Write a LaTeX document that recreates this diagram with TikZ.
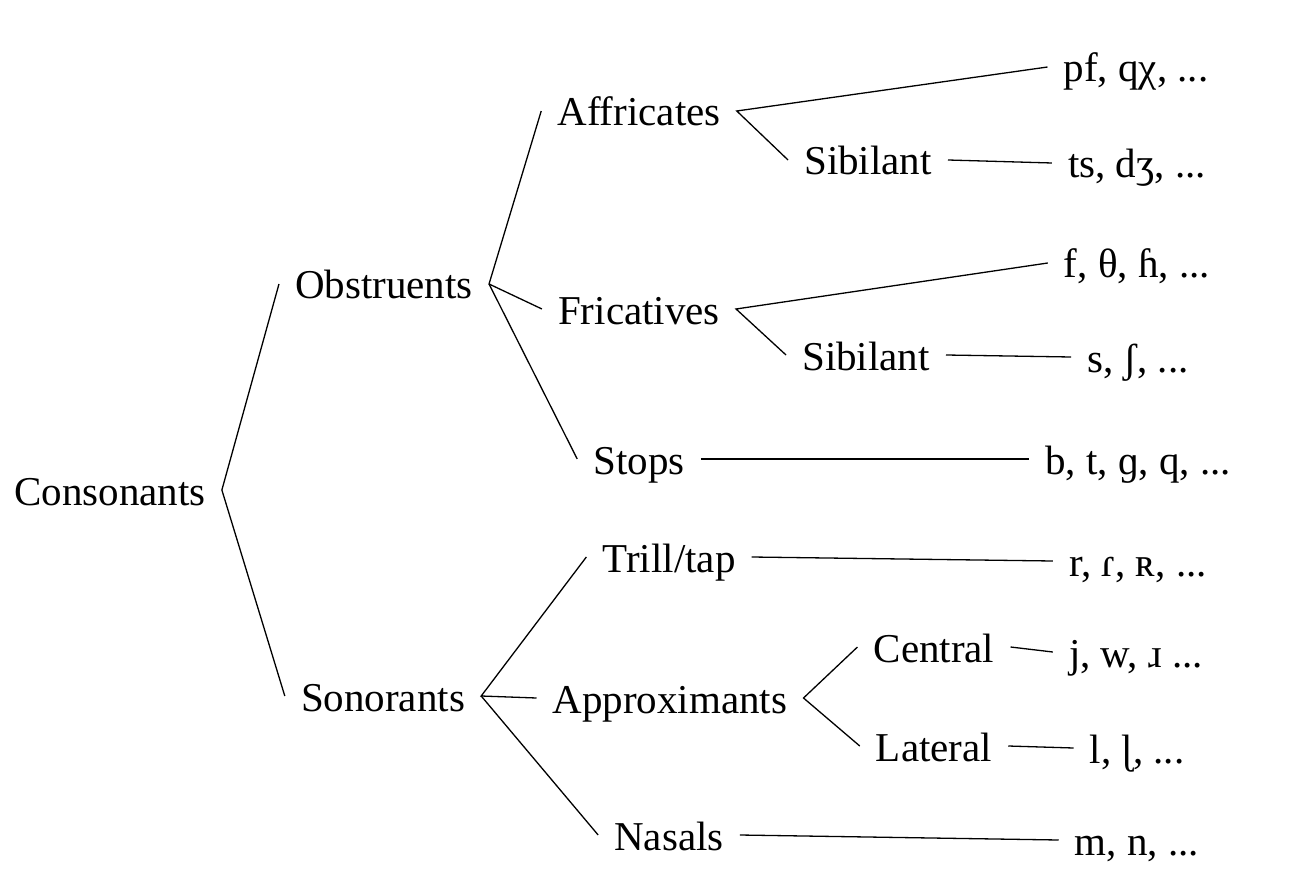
\documentclass[tikz,border=0pt]{standalone}
\usepackage{fontspec}
\setmainfont{Liberation Serif}
\begin{document}
\begin{tikzpicture}[x=1pt,y=-1pt,
  lbl/.style={inner xsep=16pt, inner ysep=0pt, text height=30pt, text depth=0pt, font=\fontsize{41}{48}\selectfont},
  edge/.style={line width=1.3pt, black}]
\useasboundingbox[fill=white] (0,0) rectangle (1292,882);
% level 0
\node[lbl] (cons) at (110,490) {Consonants};
% level 1
\node[lbl] (obs) at (384,284) {Obstruents};
\node[lbl] (son) at (383,696) {Sonorants};
% level 2
\node[lbl] (aff) at (639,111) {Affricates};
\node[lbl] (fri) at (639,309) {Fricatives};
\node[lbl] (sto) at (639,459) {Stops};
\node[lbl] (tri) at (669,557) {Trill/tap};
\node[lbl] (app) at (670,698) {Approximants};
\node[lbl] (nas) at (669,835) {Nasals};
% level 3
\node[lbl] (sib1) at (868,160) {Sibilant};
\node[lbl] (sib2) at (866,355) {Sibilant};
\node[lbl] (cen) at (934,647) {Central};
\node[lbl] (lat) at (934,746) {Lateral};
% leaves
\node[lbl] (l1) at (1136,67) {pf, qχ, ...};
\node[lbl] (l2) at (1137,163) {ts, dʒ, ...};
\node[lbl] (l3) at (1137,263) {f, θ, ɦ, ...};
\node[lbl] (l4) at (1138,357) {s, ʃ, ...};
\node[lbl] (l5) at (1138,459) {b, t, ɡ, q, ...};
\node[lbl] (l6) at (1138,561) {r, ɾ, ʀ, ...};
\node[lbl] (l7) at (1136,652) {j, w, ɹ ...};
\node[lbl] (l8) at (1137,748) {l, ɭ, ...};
\node[lbl] (l9) at (1137,840) {m, n, ...};
% edges
\draw[edge] (obs.west) -- (cons.east) -- (son.west);
\draw[edge] (aff.west) -- (obs.east) -- (fri.west);
\draw[edge] (obs.east) -- (sto.west);
\draw[edge] (tri.west) -- (son.east) -- (app.west);
\draw[edge] (son.east) -- (nas.west);
\draw[edge] (l1.west) -- (aff.east) -- (sib1.west);
\draw[edge] (sib1.east) -- (l2.west);
\draw[edge] (l3.west) -- (fri.east) -- (sib2.west);
\draw[edge] (sib2.east) -- (l4.west);
\draw[edge] (sto.east) -- (l5.west);
\draw[edge] (tri.east) -- (l6.west);
\draw[edge] (cen.west) -- (app.east) -- (lat.west);
\draw[edge] (cen.east) -- (l7.west);
\draw[edge] (lat.east) -- (l8.west);
\draw[edge] (nas.east) -- (l9.west);
\end{tikzpicture}
\end{document}
